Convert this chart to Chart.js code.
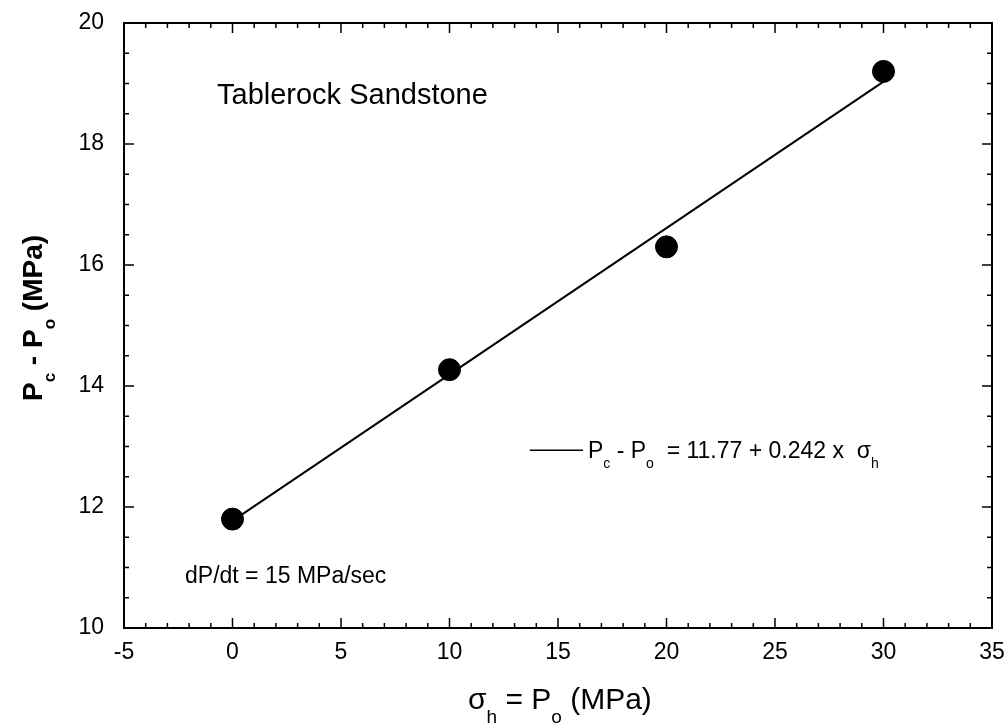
<!DOCTYPE html>
<html lang="en">
<head>
    <meta charset="UTF-8">
    <title>Tablerock Sandstone</title>
    <style>
        body {
            margin: 0;
            padding: 0;
            background-color: #ffffff;
        }

        .chart-container {
            position: relative;
            width: 1008px;
            height: 726px;
        }
    </style>
</head>
<body>
    <div class="chart-container">
        <canvas id="pcChart"></canvas>
    </div>

    <script src="https://cdn.jsdelivr.net/npm/chart.js"></script>
    <script>
        // Datos medidos (sigma_h = Po, MPa) y presión crítica Pc - Po
        const sigmaH = [0, 10, 20, 30];
        const pcMinusPo = [11.8, 14.27, 16.3, 19.2];

        // Recta de ajuste: Pc - Po = 11.77 + 0.242 x sigma_h
        const fitX = [0, 30];
        const fitY = [11.77, 19.03];

        // Leyenda de la recta (posición en unidades de datos)
        const legendX = [13.7, 16.15];
        const legendY = [12.94, 12.94];

        const xTicks = [-5, 0, 5, 10, 15, 20, 25, 30, 35];
        const yTicks = [10, 12, 14, 16, 18, 20];

        const FONT = "'Liberation Sans', Arial, Helvetica, sans-serif";

        // texto con subíndices: segmentos [texto, esSubindice]
        function segWidth(ctx, segs, size, weight) {
            let w = 0;
            segs.forEach(([t, sub]) => {
                ctx.font = `${weight} ${sub ? Math.round(size * 0.62) : size}px ${FONT}`;
                w += ctx.measureText(t).width;
            });
            return w;
        }

        function drawSegs(ctx, segs, x, y, size, weight) {
            ctx.textBaseline = 'alphabetic';
            ctx.textAlign = 'left';
            segs.forEach(([t, sub]) => {
                const s = sub ? Math.round(size * 0.62) : size;
                ctx.font = `${weight} ${s}px ${FONT}`;
                ctx.fillText(t, x, sub ? y + size * 0.45 : y);
                x += ctx.measureText(t).width;
            });
        }

        const framePlugin = {
            id: 'frame',
            afterDraw(chart) {
                const { ctx, chartArea: a, scales } = chart;
                const xs = scales.x, ys = scales.y;
                ctx.save();
                ctx.strokeStyle = '#000';
                ctx.fillStyle = '#000';

                // caja
                ctx.lineWidth = 2;
                ctx.strokeRect(a.left, a.top, a.right - a.left, a.bottom - a.top);

                // marcas hacia dentro
                ctx.lineWidth = 1.5;
                ctx.beginPath();
                for (let v = -5; v <= 35; v += 1) {
                    const px = xs.getPixelForValue(v);
                    const len = v % 5 === 0 ? 10 : 5;
                    ctx.moveTo(px, a.bottom); ctx.lineTo(px, a.bottom - len);
                    ctx.moveTo(px, a.top); ctx.lineTo(px, a.top + len);
                }
                for (let v = 10; v <= 20; v += 0.5) {
                    const py = ys.getPixelForValue(v);
                    const len = Math.abs(v % 2) < 1e-9 ? 10 : 5;
                    ctx.moveTo(a.left, py); ctx.lineTo(a.left + len, py);
                    ctx.moveTo(a.right, py); ctx.lineTo(a.right - len, py);
                }
                ctx.stroke();

                // anotaciones
                ctx.font = `29px ${FONT}`;
                ctx.fillText('Tablerock Sandstone', 217, 104);
                ctx.font = `23px ${FONT}`;
                ctx.fillText('dP/dt = 15 MPa/sec', 185, 583);

                // ecuación de la recta
                const ly = ys.getPixelForValue(legendY[0]);
                drawSegs(ctx, [['P', 0], ['c', 1], [' - P', 0], ['o', 1], ['  = 11.77 + 0.242 x  \u03c3', 0], ['h', 1]],
                    xs.getPixelForValue(legendX[1]) + 5, ly + 8, 23, 'normal');

                // título eje x
                const xt = [['\u03c3', 0], ['h', 1], [' = P', 0], ['o', 1], [' (MPa)', 0]];
                drawSegs(ctx, xt, 468, 709, 30, 'normal');

                // título eje y
                const yt = [['P', 0], ['c', 1], [' - P', 0], ['o', 1], [' (MPa)', 0]];
                const wy = segWidth(ctx, yt, 28, 'bold');
                ctx.translate(42, 318);
                ctx.rotate(-Math.PI / 2);
                drawSegs(ctx, yt, -wy / 2, 0, 28, 'bold');

                ctx.restore();
            }
        };

        const ctx = document.getElementById('pcChart').getContext('2d');
        const pcChart = new Chart(ctx, {
            type: 'scatter',
            data: {
                datasets: [
                    {
                        label: 'Datos',
                        data: sigmaH.map((x, i) => ({ x, y: pcMinusPo[i] })),
                        backgroundColor: '#000',
                        borderColor: '#000',
                        pointRadius: 11,
                        pointHoverRadius: 11,
                        order: 0,
                    },
                    {
                        label: 'Ajuste',
                        data: fitX.map((x, i) => ({ x, y: fitY[i] })),
                        showLine: true,
                        borderColor: '#000',
                        borderWidth: 2,
                        pointRadius: 0,
                        order: 1,
                    },
                    {
                        label: 'Leyenda',
                        data: legendX.map((x, i) => ({ x, y: legendY[i] })),
                        showLine: true,
                        borderColor: '#000',
                        borderWidth: 1.5,
                        pointRadius: 0,
                        order: 2,
                    }
                ]
            },
            options: {
                responsive: true,
                maintainAspectRatio: false,
                animation: false,
                layout: {
                    padding: { top: 23, right: 16, left: 0, bottom: 0 }
                },
                plugins: {
                    legend: { display: false },
                    tooltip: { enabled: false },
                },
                scales: {
                    x: {
                        type: 'linear',
                        min: -5,
                        max: 35,
                        afterFit: (s) => { s.height = 98; s.paddingLeft = 0; s.paddingRight = 0; },
                        afterBuildTicks: (s) => { s.ticks = xTicks.map(v => ({ value: v })); },
                        grid: { display: false, drawTicks: false },
                        border: { display: false },
                        ticks: {
                            color: '#000',
                            padding: 11,
                            font: { family: FONT, size: 23 },
                        }
                    },
                    y: {
                        type: 'linear',
                        min: 10,
                        max: 20,
                        afterFit: (s) => { s.width = 124; s.paddingTop = 0; s.paddingBottom = 0; },
                        afterBuildTicks: (s) => { s.ticks = yTicks.map(v => ({ value: v })); },
                        grid: { display: false, drawTicks: false },
                        border: { display: false },
                        ticks: {
                            color: '#000',
                            padding: 20,
                            font: { family: FONT, size: 23 },
                        }
                    }
                }
            },
            plugins: [framePlugin]
        });
    </script>
</body>
</html>
